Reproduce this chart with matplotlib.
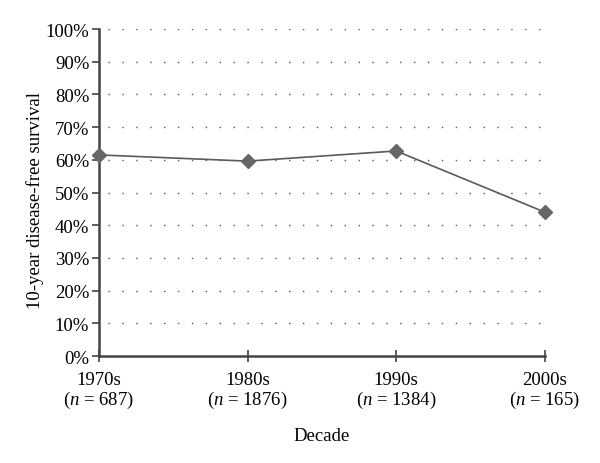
import matplotlib
matplotlib.use("Agg")
import matplotlib.pyplot as plt
from matplotlib.ticker import PercentFormatter

plt.rcParams['font.family'] = ['Liberation Serif', 'DejaVu Serif']
plt.rcParams['mathtext.fontset'] = 'custom'
plt.rcParams['mathtext.rm'] = 'Liberation Serif'
plt.rcParams['mathtext.it'] = 'Liberation Serif:italic'

decades = ['1970s', '1980s', '1990s', '2000s']
n_values = [687, 1876, 1384, 165]
survival = [61.5, 59.6, 62.7, 44.0]
y_ticks = [0, 10, 20, 30, 40, 50, 60, 70, 80, 90, 100]

fig = plt.figure(figsize=(6, 4.64), dpi=100)
ax = fig.add_axes([0.165, 0.2306, 0.743, 0.7047])

x = list(range(len(decades)))
ax.plot(x, survival, color='#5a5a5a', linewidth=1.2, marker='D', markersize=7,
        markerfacecolor='#666666', markeredgecolor='#666666', zorder=3, clip_on=False)

ax.set_xlim(0, len(decades) - 1)
ax.set_ylim(0, 100)
ax.set_yticks(y_ticks)
ax.yaxis.set_major_formatter(PercentFormatter(decimals=0))
ax.set_xticks(x)
ax.set_xticklabels([f"{d}\n($n$ = {n})" for d, n in zip(decades, n_values)], linespacing=1.05)

for v in y_ticks[1:]:
    ax.axhline(v, xmin=0.02, xmax=1.0, color='#555555', linestyle=(0, (1, 9)), linewidth=1.0, zorder=1)

for s in ['top', 'right']:
    ax.spines[s].set_visible(False)
for s in ['left', 'bottom']:
    ax.spines[s].set_color('#444444')
    ax.spines[s].set_linewidth(1.8)

ax.tick_params(axis='y', direction='out', length=5, width=1.2, color='#444444', labelsize=13.5, pad=2)
ax.tick_params(axis='x', direction='inout', length=8, width=1.2, color='#444444', labelsize=13.5, pad=7)

ax.set_ylabel('10-year disease-free survival', fontsize=13.5)
ax.yaxis.set_label_coords(-0.123, 0.48)
ax.set_xlabel('Decade', fontsize=13.5, labelpad=12)

fig.savefig('out.png', dpi=100)
